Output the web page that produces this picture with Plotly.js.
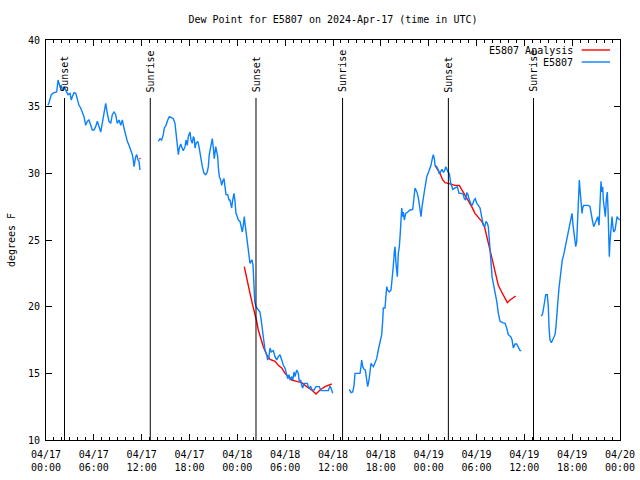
<!DOCTYPE html>
<html><head><meta charset="utf-8">
<script src="https://cdn.plot.ly/plotly-3.0.1.min.js"></script>
<style>html,body{margin:0;padding:0;background:#fff}#chart{width:640px;height:480px}</style>
</head><body><div id="chart"></div>
<script>
// Hours since 2024-04-17 00:00 UTC; null marks a data gap
const blueHours = [
0.25,0.38,0.66,1.00,1.34,1.51,1.63,1.76,1.92,2.04,2.26,2.47,2.76,3.01,3.17,3.30,3.51,3.73,3.93,4.14,4.35,4.55,4.77,4.98,5.18,5.39,5.61,5.81,6.02,6.23,6.44,6.65,6.86,7.06,7.28,7.49,7.69,7.90,8.12,8.32,8.53,8.74,8.94,9.16,9.37,9.57,9.78,10.00,10.20,10.41,10.62,10.83,10.95,11.04,11.25,11.38,11.54,11.67,11.79,
null,
14.09,14.30,14.51,14.71,14.84,15.05,15.27,15.47,15.68,15.97,16.18,16.31,16.47,16.60,16.72,16.90,17.02,17.22,17.44,17.56,17.72,17.85,18.06,18.19,18.35,18.48,18.60,18.69,18.82,19.03,19.19,19.32,19.44,19.61,19.82,20.03,20.23,20.36,20.48,20.66,20.79,20.86,20.99,21.11,21.29,21.41,21.54,21.61,21.74,21.91,22.04,22.17,22.33,22.45,22.58,22.79,22.96,23.08,23.29,23.42,23.58,23.71,23.83,24.00,24.12,24.34,24.46,24.62,24.75,24.87,24.96,25.09,25.21,25.34,25.46,25.59,25.72,25.84,25.97,26.09,26.18,26.34,26.63,26.84,26.97,27.09,27.18,27.35,27.47,27.68,27.81,27.97,28.10,28.26,28.51,28.73,28.94,29.14,29.35,29.57,29.77,29.98,30.19,30.32,30.48,30.61,30.82,30.95,31.11,31.23,31.45,31.65,31.77,31.95,32.07,32.20,32.36,32.61,32.78,32.95,33.20,33.37,33.62,33.87,34.03,34.28,34.50,34.78,35.12,35.41,35.62,35.75,35.96,
null,
38.05,38.26,38.47,38.64,38.76,39.05,39.39,39.51,39.60,39.73,39.89,40.05,40.23,40.35,40.52,40.64,40.77,40.93,41.06,41.27,41.48,41.68,41.90,42.11,42.24,42.31,42.52,42.65,42.74,42.86,43.06,43.28,43.36,43.49,43.57,43.69,43.78,43.90,44.07,44.19,44.32,44.41,44.53,44.62,44.74,44.82,44.95,45.12,45.37,45.66,46.00,46.16,46.29,46.41,46.58,46.75,46.91,47.04,47.17,47.33,47.45,47.63,47.76,47.96,48.17,48.29,48.42,48.58,48.71,48.80,49.01,49.21,49.34,49.51,49.67,49.84,50.01,50.14,50.34,50.51,50.59,50.77,51.02,51.22,51.43,51.60,51.81,52.15,52.35,52.47,52.65,52.77,52.90,53.06,53.27,53.48,53.69,53.85,54.03,54.23,54.44,54.57,54.69,54.85,55.03,55.19,55.36,55.48,55.61,55.69,55.82,55.95,56.11,56.32,56.54,56.74,56.95,57.29,57.58,57.79,57.99,58.29,58.46,58.62,58.83,59.04,59.25,59.46,59.62,
null,
62.09,62.26,62.38,62.51,62.68,62.88,63.01,63.10,63.22,63.39,63.56,63.72,63.85,63.97,64.06,64.19,64.35,64.48,64.60,64.76,64.94,65.10,65.23,65.39,65.52,65.64,65.77,65.86,65.98,66.11,66.23,66.36,66.45,66.57,66.70,66.82,66.90,66.99,67.11,67.24,67.32,67.45,67.70,68.03,68.24,68.36,68.53,68.70,68.87,69.03,69.21,69.37,69.49,69.62,69.71,69.83,69.91,70.03,70.16,70.29,70.41,70.50,70.59,70.66,70.75,70.88,71.00,71.09,71.21,71.38,71.50,71.63,71.79,71.96
];
const blueDew = [
35.1,35.3,35.9,36.05,36.1,37.0,36.75,36.5,36.6,36.25,36.5,36.25,35.9,36.0,35.5,35.75,36.05,36.0,35.5,35.1,34.9,34.6,34.25,33.6,33.9,34.0,33.6,33.25,33.25,33.5,33.9,33.4,33.1,33.75,34.5,35.25,34.5,33.9,33.75,34.4,34.6,34.4,33.75,34.0,33.6,34.0,33.4,32.75,32.4,32.1,31.75,31.4,31.0,30.5,31.25,31.4,31.0,30.9,30.25,
null,
32.4,32.6,32.5,32.9,33.4,33.6,34.0,34.25,34.2,34.1,33.75,32.9,32.25,31.4,31.9,32.2,32.0,31.7,32.0,32.5,32.1,32.75,33.1,32.5,32.25,32.75,32.6,31.9,32.25,32.4,32.0,31.5,31.0,30.5,30.0,29.9,30.1,30.5,31.4,32.1,32.5,32.6,31.9,31.1,32.0,31.6,31.25,30.5,29.75,29.5,29.1,29.4,29.6,29.0,28.4,28.4,28.0,28.0,27.4,28.0,28.5,27.9,27.0,26.75,26.5,26.4,26.0,25.6,26.1,26.75,26.25,25.6,24.9,24.1,23.5,23.25,23.4,23.5,23.1,21.6,20.4,20.0,19.75,19.6,19.1,18.5,18.0,17.4,16.75,16.4,16.0,16.25,16.9,16.6,16.7,16.25,16.0,16.25,16.4,16.0,15.6,15.4,14.9,14.6,14.9,14.5,14.75,14.5,15.1,14.75,15.25,15.0,14.4,14.5,14.1,13.9,14.25,14.25,14.25,13.9,14.0,13.75,13.75,14.0,14.0,14.0,13.7,13.7,13.7,13.7,14.05,13.9,13.5,
null,
13.8,13.55,13.6,14.1,15.0,15.0,15.0,15.5,16.0,15.5,15.3,15.25,14.5,14.0,14.5,15.1,15.75,15.6,15.5,15.8,16.1,16.75,17.25,17.9,19.0,19.9,19.9,21.0,21.5,21.25,21.1,21.25,21.75,22.25,23.1,24.1,24.5,23.25,22.25,24.0,24.5,25.25,26.5,27.4,26.75,27.1,26.5,27.0,27.1,27.25,27.3,28.0,28.9,28.75,28.5,28.0,27.1,26.75,27.5,28.0,28.6,29.25,29.75,30.05,30.4,30.6,31.0,31.4,31.1,30.6,30.5,30.25,29.95,30.1,30.3,30.1,30.2,30.5,30.2,30.0,30.0,29.25,28.8,28.9,28.95,29.0,28.5,28.5,28.4,28.1,28.0,28.55,28.45,28.1,27.75,27.6,28.0,28.1,27.75,27.6,27.4,27.0,26.5,26.1,26.0,26.4,26.25,26.0,25.0,24.25,23.0,22.25,21.75,21.1,20.4,19.5,18.9,18.8,18.75,18.4,17.9,17.75,17.5,16.9,17.2,17.2,16.9,16.7,16.7,
null,
19.3,19.4,19.75,20.4,20.9,20.9,20.0,18.4,17.5,17.3,17.5,17.75,17.9,18.5,19.5,20.25,21.4,22.25,23.0,23.5,23.9,24.4,24.9,25.25,25.6,26.0,26.4,26.75,27.0,26.1,25.6,24.9,24.5,24.9,26.5,28.5,29.5,28.75,27.5,27.0,27.4,27.6,27.6,27.6,27.5,27.0,26.5,26.0,26.25,26.5,26.75,26.1,28.5,29.4,28.6,29.0,28.0,27.4,26.75,28.1,28.6,27.25,25.0,23.75,24.9,26.0,26.75,26.1,25.6,25.75,26.25,26.75,26.6,26.5
];
const redHours = [
11.76,11.82,
null,
24.87,25.09,25.34,25.59,25.93,26.22,26.43,26.63,26.93,27.26,27.68,28.10,28.73,29.14,29.57,29.98,30.39,30.82,31.45,32.07,32.70,33.33,33.87,34.37,34.99,35.41,35.84,
null,
48.80,49.42,49.76,50.05,50.46,50.89,51.30,51.84,52.15,52.56,52.97,53.40,53.81,54.23,54.65,54.98,55.19,55.48,55.69,56.03,56.32,56.74,57.16,57.58,57.87,58.21,58.62,58.92
];
const redDew = [
31.15,31.05,
null,
23.0,22.3,21.5,21.0,20.1,19.5,18.9,18.25,17.6,17.0,16.4,16.05,15.9,15.6,15.4,15.0,14.75,14.5,14.4,14.3,14.0,13.75,13.45,13.75,14.0,14.1,14.2,
null,
30.6,30.0,29.5,29.3,29.25,29.2,29.1,29.1,28.8,28.4,28.0,27.5,27.0,26.7,26.4,26.05,25.5,24.75,24.1,23.25,22.5,21.6,21.1,20.6,20.3,20.5,20.7,20.8
];
const sunHours = [2.32, 13.08, 26.34, 37.20, 50.47, 61.15];
const sunLabels = ["Sunset","Sunrise","Sunset","Sunrise","Sunset","Sunrise"];
const tickHours = [0,6,12,18,24,30,36,42,48,54,60,66,72];
const tickDates = ["04/17","04/17","04/17","04/17","04/18","04/18","04/18","04/18","04/19","04/19","04/19","04/19","04/20"];
const tickTimes = ["00:00","06:00","12:00","18:00","00:00","06:00","12:00","18:00","00:00","06:00","12:00","18:00","00:00"];
const seriesNames = ["E5807 Analysis","E5807"];

const font = {family:'"DejaVu Sans Mono", monospace', size:10, color:'#000'};
const RED = '#ff0000', BLUE = '#0a80ff';

const traces = [
  {x:redHours, y:redDew, type:'scatter', mode:'lines', name:seriesNames[0], line:{color:RED, width:1.4}, connectgaps:false, showlegend:false, hoverinfo:'skip'},
  {x:blueHours, y:blueDew, type:'scatter', mode:'lines', name:seriesNames[1], line:{color:BLUE, width:1.4}, connectgaps:false, showlegend:false, hoverinfo:'skip'},
  // carrier for the second line of the time-axis labels
  {x:[0,72], y:[null,null], xaxis:'x2', type:'scatter', mode:'lines', showlegend:false, hoverinfo:'skip'}
];

const shapes = sunHours.map(h => ({type:'line', xref:'x', yref:'y', x0:h, x1:h, y0:10, y1:35.65, line:{color:'#000', width:1}}));
const annotations = sunHours.map((h,i) => ({x:h, y:36.0, xref:'x', yref:'y', text:sunLabels[i], textangle:-90, showarrow:false, xanchor:'center', yanchor:'bottom', font:font, borderpad:0}));

// legend drawn gnuplot-style: text right, sample line on the right
const legY = [0.975, 0.945];
const legColors = [RED, BLUE];
seriesNames.forEach((n,i) => {
  annotations.push({xref:'paper', yref:'paper', x:0.9199, y:legY[i], text:n, showarrow:false, xanchor:'right', yanchor:'middle', font:font, borderpad:0});
  shapes.push({type:'line', xref:'paper', yref:'paper', x0:0.9333, x1:0.9826, y0:legY[i], y1:legY[i], line:{color:legColors[i], width:1.4}});
});

const layout = {
  width:640, height:480,
  margin:{l:46, r:20, t:40, b:40},
  paper_bgcolor:'#fff', plot_bgcolor:'#fff',
  font:font,
  showlegend:false,
  title:{text:'Dew Point for E5807 on 2024-Apr-17 (time in UTC)', font:font, x:0.5, xref:'paper', xanchor:'center', y:1-19/480, yref:'container', yanchor:'middle'},
  xaxis:{range:[0,72], tickmode:'array', tickvals:tickHours, ticktext:tickDates, ticks:'inside', ticklen:6, tickcolor:'#000', tickwidth:1,
         showline:true, linecolor:'#000', linewidth:1, mirror:'ticks', showgrid:false, zeroline:false, tickfont:font, ticklabelstandoff:5,
         minor:{tickmode:'linear', tick0:0, dtick:1, ticks:'inside', ticklen:3, tickcolor:'#000', tickwidth:1, showgrid:false}, fixedrange:true},
  xaxis2:{range:[0,72], overlaying:'x', anchor:'y', side:'bottom', tickmode:'array', tickvals:tickHours, ticktext:tickTimes, ticks:'',
         showline:false, showgrid:false, zeroline:false, tickfont:font, ticklabelstandoff:20, fixedrange:true},
  yaxis:{range:[10,40], tick0:10, dtick:5, ticks:'inside', ticklen:6, tickcolor:'#000', tickwidth:1,
         showline:true, linecolor:'#000', linewidth:1, mirror:'ticks', showgrid:false, zeroline:false, tickfont:font, ticklabelstandoff:3,
         title:{text:'degrees F', font:font, standoff:10}, fixedrange:true},
  shapes:shapes,
  annotations:annotations
};
Plotly.newPlot('chart', traces, layout, {staticPlot:true, displayModeBar:false});
</script></body></html>
